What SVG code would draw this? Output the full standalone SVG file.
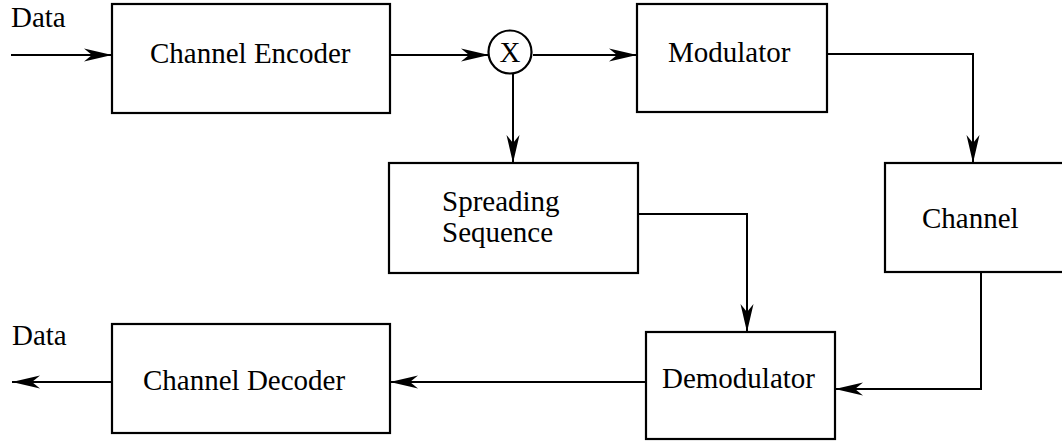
<svg xmlns="http://www.w3.org/2000/svg" width="1062" height="444" viewBox="0 0 1062 444">
<style>
.box{fill:#fff;stroke:#000;stroke-width:2.2}
.ln{fill:none;stroke:#000;stroke-width:2}
text{font-family:"Liberation Serif","Times New Roman",serif;font-size:29px;fill:#000}
</style>
<defs>
<marker id="ah" markerUnits="userSpaceOnUse" markerWidth="32" markerHeight="18" refX="28" refY="8" orient="auto">
<path d="M28,8 L0,1.5 L8,8 L0,14.5 Z" fill="#000"/>
</marker>
</defs>
<rect width="1062" height="444" fill="#fff"/>
<g id="connectors">
<path class="ln" d="M11,55 H112" marker-end="url(#ah)"/>
<path class="ln" d="M390,55 H489" marker-end="url(#ah)"/>
<path class="ln" d="M533,55 H637" marker-end="url(#ah)"/>
<path class="ln" d="M513,74 V163" marker-end="url(#ah)"/>
<path class="ln" d="M827,54 H973 V163" marker-end="url(#ah)"/>
<path class="ln" d="M638,214 H747 V332" marker-end="url(#ah)"/>
<path class="ln" d="M981,272 V389 H835" marker-end="url(#ah)"/>
<path class="ln" d="M646,382 H390" marker-end="url(#ah)"/>
<path class="ln" d="M112,382 H12" marker-end="url(#ah)"/>
</g>
<g id="data-in"><text x="11" y="27">Data</text></g>
<g id="data-out"><text x="12" y="345">Data</text></g>
<g id="encoder"><rect class="box" x="112" y="4" width="278" height="109"/><text x="150" y="63">Channel Encoder</text></g>
<g id="multiplier"><circle class="box" cx="510" cy="52" r="21.5"/><text x="510" y="62" text-anchor="middle" font-size="27">X</text></g>
<g id="modulator"><rect class="box" x="637" y="4" width="190" height="108"/><text x="668" y="62">Modulator</text></g>
<g id="spreading"><rect class="box" x="389" y="163" width="249" height="110"/><text x="442" y="211">Spreading</text><text x="442" y="242">Sequence</text></g>
<g id="channel"><rect class="box" x="885" y="163" width="180" height="109"/><text x="922" y="228">Channel</text></g>
<g id="demodulator"><rect class="box" x="646" y="332" width="189" height="107"/><text x="662" y="388">Demodulator</text></g>
<g id="decoder"><rect class="box" x="112" y="324" width="278" height="109"/><text x="143" y="390">Channel Decoder</text></g>
</svg>
